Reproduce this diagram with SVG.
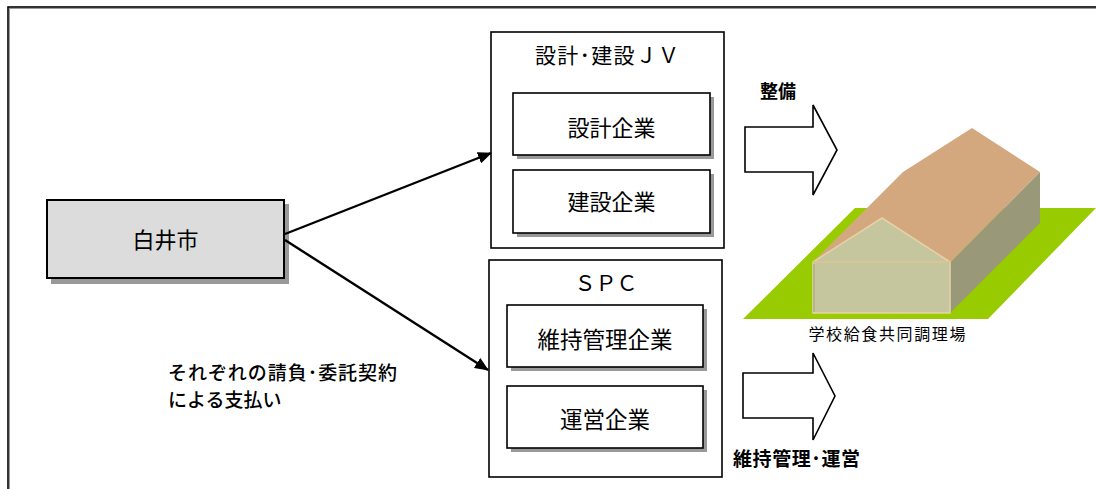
<svg xmlns="http://www.w3.org/2000/svg" width="1096" height="489" viewBox="0 0 1096 489">
  <style>
    .t { font-family: "Noto Sans CJK JP", "Noto Sans", sans-serif; fill: #000; }
    .box { fill: #fff; stroke: #000; stroke-width: 1.6; }
    .shadow { fill: #999; }
    .conn { stroke: #000; stroke-width: 2.4; fill: none; }
    .block { fill: #fff; stroke: #000; stroke-width: 1.6; stroke-linejoin: miter; }
  </style>
  <defs>
    <marker id="arrow" markerWidth="14" markerHeight="12" refX="13" refY="6" orient="auto" markerUnits="userSpaceOnUse" viewBox="0 0 14 12">
      <path d="M0,0 L14,6 L0,12 z" fill="#000"/>
    </marker>
  </defs>

  <rect width="1096" height="489" fill="#fff"/>

  <!-- outer frame, running off the right and bottom edges -->
  <g id="frame">
    <rect x="9.5" y="8.5" width="1200" height="600" fill="none" stroke="#999" stroke-width="1"/>
    <rect x="8" y="7" width="1200" height="600" fill="none" stroke="#000" stroke-width="1.6"/>
  </g>

  <!-- Shirai city -->
  <g id="city">
    <rect class="shadow" x="51" y="204" width="238" height="80"/>
    <rect x="47" y="200" width="237" height="78" fill="#dcdcdc" stroke="#000" stroke-width="2"/>
    <text class="t" x="165.5" y="247.5" font-size="22" text-anchor="middle">白井市</text>
  </g>

  <!-- design / construction joint venture -->
  <g id="jv">
    <rect class="box" x="491" y="32" width="233" height="216"/>
    <text class="t" x="607" y="63" font-size="21" text-anchor="middle" textLength="144" lengthAdjust="spacing">設計･建設ＪＶ</text>
  </g>
  <g id="design">
    <rect class="shadow" x="517" y="97" width="197" height="62"/>
    <rect class="box" x="513" y="93" width="197" height="62"/>
    <text class="t" x="611.5" y="136" font-size="22" text-anchor="middle">設計企業</text>
  </g>
  <g id="construction">
    <rect class="shadow" x="517" y="174" width="197" height="63"/>
    <rect class="box" x="513" y="170" width="197" height="63"/>
    <text class="t" x="611.5" y="209.5" font-size="22" text-anchor="middle">建設企業</text>
  </g>

  <!-- special purpose company -->
  <g id="spc">
    <rect class="box" x="489" y="260" width="233" height="217"/>
    <text class="t" x="606" y="291" font-size="21" text-anchor="middle">ＳＰＣ</text>
  </g>
  <g id="maintenance">
    <rect class="shadow" x="511" y="309" width="196" height="62"/>
    <rect class="box" x="507" y="305" width="196" height="62"/>
    <text class="t" x="605" y="348" font-size="22.5" text-anchor="middle">維持管理企業</text>
  </g>
  <g id="operation">
    <rect class="shadow" x="511" y="390" width="196" height="62"/>
    <rect class="box" x="507" y="386" width="196" height="62"/>
    <text class="t" x="605" y="428" font-size="22.5" text-anchor="middle">運営企業</text>
  </g>

  <!-- contract connectors -->
  <g id="connectors">
    <line class="conn" x1="285" y1="234" x2="491" y2="153" marker-end="url(#arrow)"/>
    <line class="conn" x1="285" y1="240" x2="488" y2="370" marker-end="url(#arrow)"/>
  </g>

  <g id="note">
    <text class="t" x="168" y="380" font-size="19" font-weight="500" textLength="229" lengthAdjust="spacing">それぞれの請負･委託契約</text>
    <text class="t" x="168" y="407" font-size="19" font-weight="500">による支払い</text>
  </g>

  <!-- block arrows -->
  <g id="build-arrow">
    <path class="block" d="M745,127 L813,127 L813,105 L837,150 L813,195 L813,172 L745,172 z"/>
    <text class="t" x="760" y="98" font-size="18" font-weight="bold">整備</text>
  </g>
  <g id="run-arrow">
    <path class="block" d="M743,373 L813,373 L813,353 L835,396 L813,440 L813,418 L743,418 z"/>
    <text class="t" x="733" y="466" font-size="19" font-weight="bold" textLength="127" lengthAdjust="spacing">維持管理･運営</text>
  </g>

  <!-- school lunch centre building -->
  <g id="facility">
    <polygon points="743,319 855,208 1096,208 988,319" fill="#99cc00"/>
    <polygon points="813,262 903,172 972,128 1040,172 950,263" fill="#d4a87e"/>
    <polygon points="950,263 1040,172 1040,223 950,313" fill="#999878"/>
    <polygon points="813,262 882,218 950,262 950,313 813,313" fill="#c5c59e" stroke="#e6d2a6" stroke-width="1.5"/>
    <line x1="813" y1="262" x2="950" y2="262" stroke="#d9c498" stroke-width="2"/>
    <line x1="814" y1="264" x2="814" y2="312" stroke="#b5b58e" stroke-width="2"/>
    <text class="t" x="887" y="339.5" font-size="16" text-anchor="middle" textLength="157" lengthAdjust="spacing">学校給食共同調理場</text>
  </g>
</svg>
